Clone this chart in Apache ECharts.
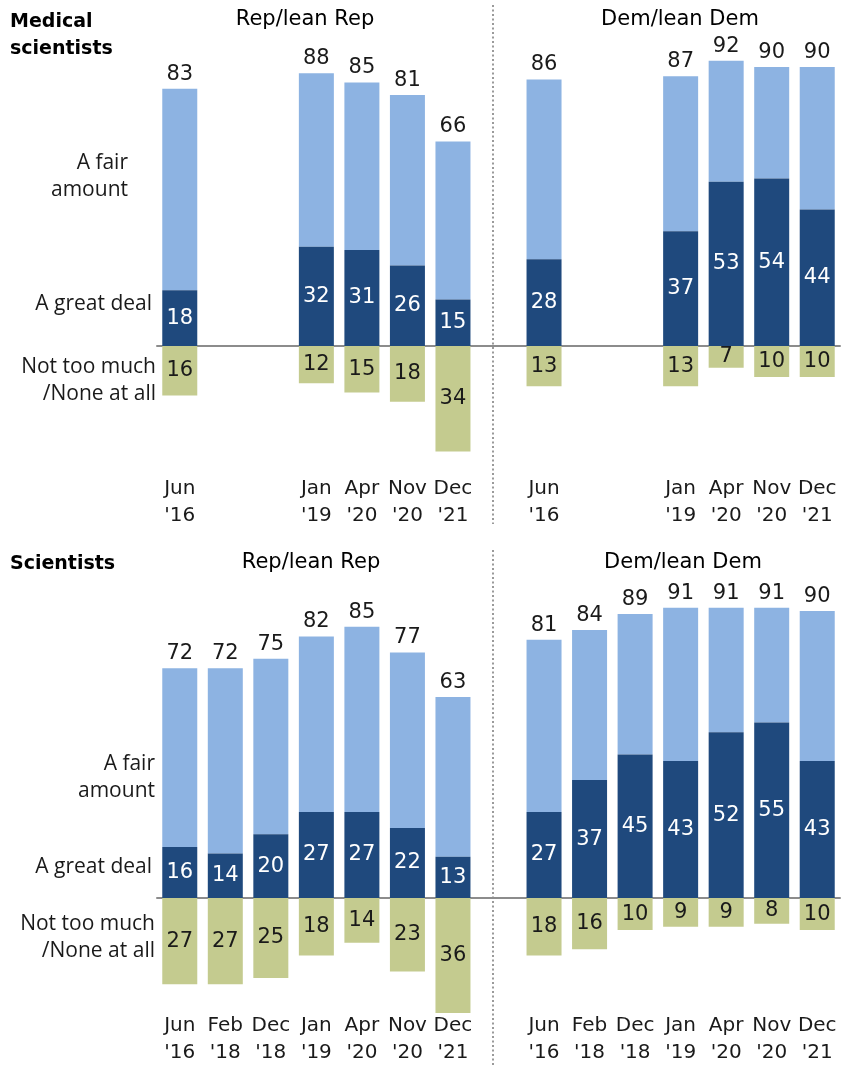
<!DOCTYPE html>
<html>
<head>
<meta charset="utf-8">
<script src="https://cdn.jsdelivr.net/npm/echarts@6.0.0/dist/echarts.min.js"></script>
<style>
  html, body { margin: 0; padding: 0; background: #ffffff; }
  #chart { width: 850px; height: 1066px; }
</style>
</head>
<body>
<div id="chart"></div>
<script>
// Survey waves (shared by both partisan groups)
const waveLabels = ["Jun\n'16", "Feb\n'18", "Dec\n'18", "Jan\n'19", "Apr\n'20", "Nov\n'20", "Dec\n'21"];

// Medical scientists — Rep/lean Rep
const medRepTotal = [83, null, null, 88, 85, 81, 66];
const medRepGreat = [18, null, null, 32, 31, 26, 15];
const medRepLow   = [16, null, null, 12, 15, 18, 34];
// Medical scientists — Dem/lean Dem
const medDemTotal = [86, null, null, 87, 92, 90, 90];
const medDemGreat = [28, null, null, 37, 53, 54, 44];
const medDemLow   = [13, null, null, 13, 7, 10, 10];

// Scientists — Rep/lean Rep
const sciRepTotal = [72, 72, 75, 82, 85, 77, 63];
const sciRepGreat = [16, 14, 20, 27, 27, 22, 13];
const sciRepLow   = [27, 27, 25, 18, 14, 23, 36];
// Scientists — Dem/lean Dem
const sciDemTotal = [81, 84, 89, 91, 91, 91, 90];
const sciDemGreat = [27, 37, 45, 43, 52, 55, 43];
const sciDemLow   = [18, 16, 10, 9, 9, 8, 10];

const rowLabels = ['A fair\namount', 'A great deal', 'Not too much\n/None at all'];
const groupNames = ['Rep/lean Rep', 'Dem/lean Dem'];
const panelTitles = ['Medical\nscientists', 'Scientists'];

const COLORS = { fair: '#8db3e2', great: '#1f497d', low: '#c4cb8f', axis: '#8c8c8c', text: '#1a1a1a' };
const NUM_FONT = 'DejaVu Sans';
const SIDE_FONT = 'Open Sans';

// One row of 15 slots: 7 Rep waves, an empty spacer, 7 Dem waves
const joinRow = (rep, dem) => rep.concat([null], dem);
const slotKeys = waveLabels.map((_, i) => 'r' + i).concat(['gap'], waveLabels.map((_, i) => 'd' + i));
const slotLabels = waveLabels.concat([''], waveLabels);

const panels = [
  { total: joinRow(medRepTotal, medDemTotal), great: joinRow(medRepGreat, medDemGreat), low: joinRow(medRepLow, medDemLow),
    min: -40, max: 100, top: 36, height: 434, labelMargin: 5 },
  { total: joinRow(sciRepTotal, sciDemTotal), great: joinRow(sciRepGreat, sciDemGreat), low: joinRow(sciRepLow, sciDemLow),
    min: -36, max: 100, top: 579, height: 434, labelMargin: -1 }
];

const grid = [], xAxis = [], yAxis = [], series = [];
panels.forEach((p, i) => {
  grid.push({ left: 157, width: 683, top: p.top, height: p.height });
  xAxis.push({
    type: 'category', gridIndex: i, data: slotKeys,
    axisTick: { show: false },
    axisLine: { show: true, onZero: true, lineStyle: { color: COLORS.axis, width: 2 } },
    axisLabel: {
      interval: 0, margin: p.labelMargin, color: COLORS.text,
      fontFamily: NUM_FONT, fontSize: 20, lineHeight: 27,
      // waves without a survey in this panel get no label
      formatter: (v, idx) => (p.total[idx] == null ? '' : slotLabels[idx])
    }
  });
  yAxis.push({ type: 'value', gridIndex: i, min: p.min, max: p.max, show: false, splitLine: { show: false } });

  const fairVals = p.total.map((t, k) => t == null ? null : t - p.great[k]);
  const lowVals = p.low.map(v => v == null ? null : -v);
  const common = { type: 'bar', xAxisIndex: i, yAxisIndex: i, stack: 'p' + i, barWidth: 35, silent: true };

  series.push(Object.assign({}, common, {
    name: 'A great deal', data: p.great, z: 3,
    itemStyle: { color: COLORS.great },
    label: { show: true, position: 'inside', color: '#ffffff', fontFamily: NUM_FONT, fontSize: 21 }
  }));
  series.push(Object.assign({}, common, {
    name: 'A fair amount', data: fairVals, z: 2,
    itemStyle: { color: COLORS.fair },
    label: { show: true, position: 'top', distance: 4, color: COLORS.text, fontFamily: NUM_FONT, fontSize: 21,
      formatter: q => p.total[q.dataIndex] }
  }));
  series.push(Object.assign({}, common, {
    name: 'Not too much/None at all', data: lowVals, z: 2,
    itemStyle: { color: COLORS.low },
    label: { show: true, position: 'inside', color: COLORS.text, fontFamily: NUM_FONT, fontSize: 21,
      formatter: q => Math.abs(q.value) }
  }));
});

// Side labels for the three response categories, per panel
function sideText(text, x, y) {
  return { type: 'text', x: x, y: y, silent: true,
    style: { text: text, align: 'right', verticalAlign: 'middle', fill: COLORS.text,
      fontFamily: SIDE_FONT, fontSize: 21, lineHeight: 27 } };
}
function headText(text, x, y, bold, align) {
  return { type: 'text', x: x, y: y, silent: true,
    style: { text: text, align: align, verticalAlign: 'middle', fill: '#000000',
      fontFamily: NUM_FONT, fontSize: bold ? 19 : 21, fontWeight: bold ? 'bold' : 'normal', lineHeight: 27 } };
}
function divider(y1, y2) {
  return { type: 'line', silent: true, shape: { x1: 493, y1: y1, x2: 493, y2: y2 },
    style: { stroke: '#9a9a9a', lineWidth: 2, lineDash: [2, 2.5] } };
}

const graphic = [
  headText(panelTitles[0], 10, 36, true, 'left'),
  headText(groupNames[0], 305, 20, false, 'center'),
  headText(groupNames[1], 680, 20, false, 'center'),
  sideText(rowLabels[0], 128, 177),
  sideText(rowLabels[1], 152, 304),
  sideText(rowLabels[2], 156, 381),
  divider(5, 524),

  headText(panelTitles[1], 10, 564, true, 'left'),
  headText(groupNames[0], 311, 563, false, 'center'),
  headText(groupNames[1], 683, 563, false, 'center'),
  sideText(rowLabels[0], 155, 778),
  sideText(rowLabels[1], 152, 867),
  sideText(rowLabels[2], 155, 938),
  divider(550, 1066)
];

const chart = echarts.init(document.getElementById('chart'), null, { renderer: 'canvas' });
chart.setOption({
  animation: false,
  backgroundColor: '#ffffff',
  grid: grid, xAxis: xAxis, yAxis: yAxis, series: series, graphic: graphic
});
</script>
</body>
</html>
